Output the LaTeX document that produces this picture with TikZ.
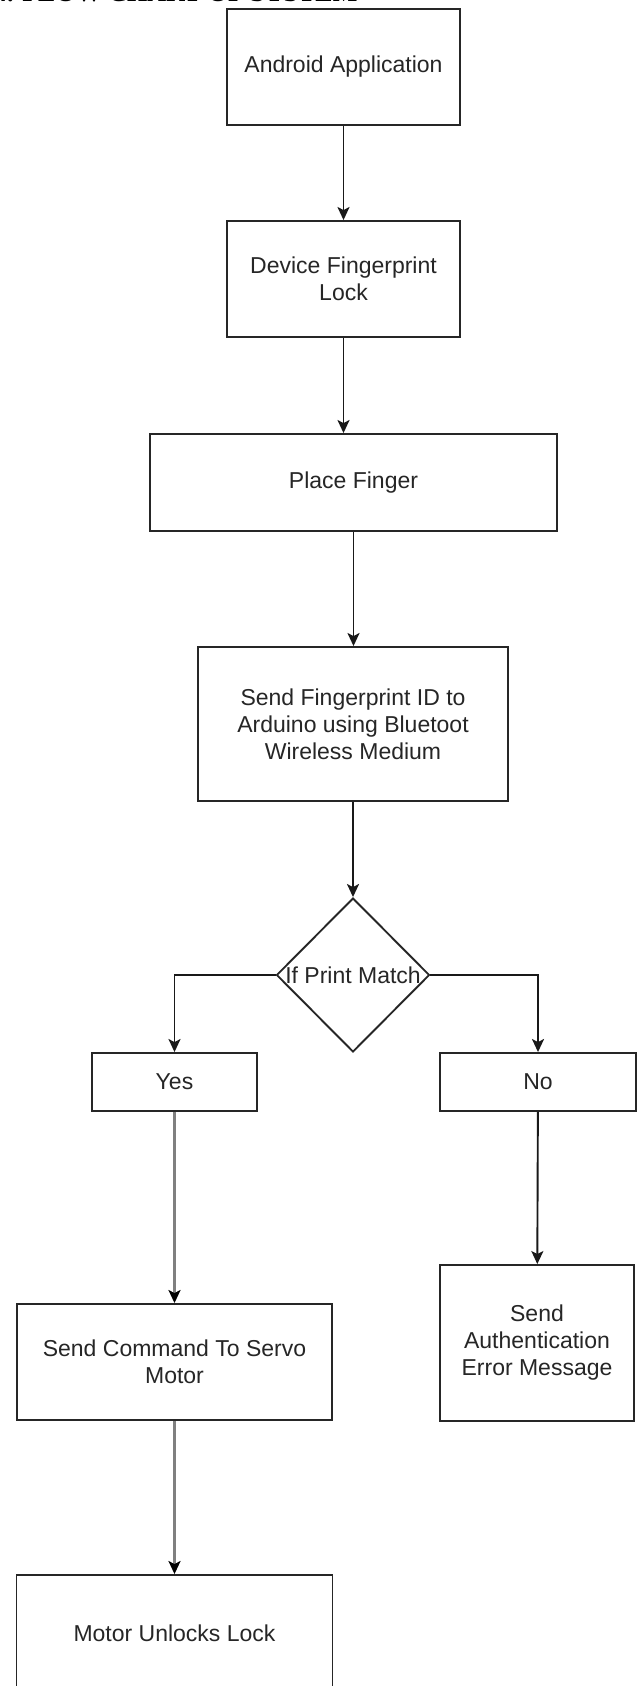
\documentclass[tikz,border=0pt]{standalone}
\usepackage{fontspec}
\setmainfont{Liberation Sans}
\newfontfamily\titlefont{Liberation Serif}
\usetikzlibrary{arrows.meta,shapes.geometric}
\begin{document}
\begin{tikzpicture}[x=1pt,y=-1pt,
  stepbox/.style={draw=black!85, line width=1.9pt, rectangle, inner sep=0pt, align=center,
    text=black!85, font=\fontsize{23}{27}\selectfont},
  decision/.style={draw=black!85, line width=1.9pt, diamond, inner sep=0pt,
    minimum width=153pt, minimum height=154pt},
  flow/.style={draw=black!90, line width=1.9pt, -{Stealth[length=13pt,width=12pt,inset=3pt]}},
  grayflow/.style={draw=black!50, line width=2.3pt, -{Stealth[length=13pt,width=12pt,inset=3pt,black]}}
]
\useasboundingbox (0,0) rectangle (637,1686);
\fill[white] (0,0) rectangle (637,1686);

\node[anchor=base west, inner sep=0pt, font=\titlefont\bfseries\fontsize{26}{30}\selectfont]
  (title) at (-6,2) {4. FLOW CHART OF SYSTEM};

\node[stepbox, minimum width=233pt, minimum height=116pt] (app) at (343.5,67) {Android Application};
\node[stepbox, minimum width=233pt, minimum height=116pt] (dev) at (343.5,279) {Device Fingerprint\\Lock};
\node[stepbox, minimum width=407pt, minimum height=97pt] (place) at (353.5,482.5) {Place Finger};
\node[stepbox, minimum width=310pt, minimum height=154pt] (send) at (353,724) {Send Fingerprint ID to\\Arduino using Bluetoot\\Wireless Medium};
\node[decision, label={[text=black!85, font=\fontsize{23}{27}\selectfont]center:If Print Match}] (dec) at (353,975) {};
\node[stepbox, minimum width=165pt, minimum height=58pt] (yes) at (174.5,1082) {Yes};
\node[stepbox, minimum width=196pt, minimum height=58pt] (no) at (538,1082) {No};
\node[stepbox, minimum width=315pt, minimum height=116pt] (cmd) at (174.5,1362) {Send Command To Servo\\Motor};
\node[stepbox, minimum width=194pt, minimum height=156pt] (err) at (537,1343) {Send\\Authentication\\Error Message};
\node[stepbox, minimum width=316pt, minimum height=116pt] (motor) at (174.5,1633) {Motor Unlocks Lock};

\draw[flow] (app) -- (dev);
\draw[flow] (dev.south) -- (dev.south |- place.north);
\draw[flow] (place.south) -- (place.south |- send.north);
\draw[flow] (send) -- (dec);
\draw[flow] (dec.west) -| (yes.north);
\draw[flow] (dec.east) -| (no.north);
\draw[grayflow] (yes) -- (cmd);
\draw[flow] (no) -- (err);
\draw[grayflow] (cmd) -- (motor);
\end{tikzpicture}
\end{document}
